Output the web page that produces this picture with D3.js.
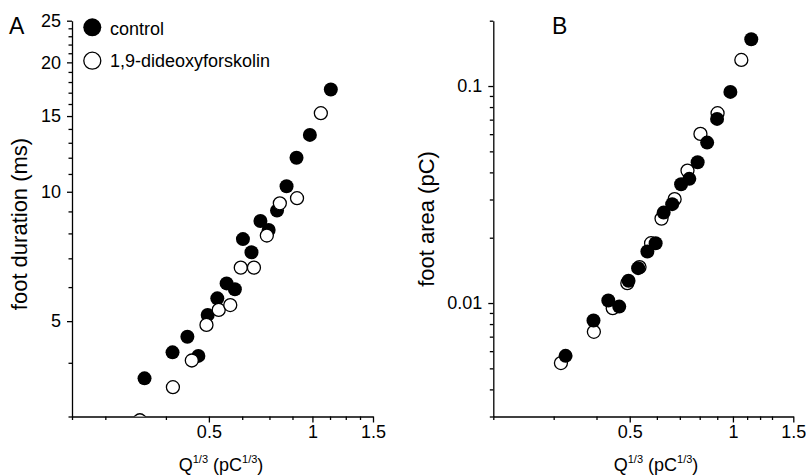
<!DOCTYPE html>
<html>
<head>
<meta charset="utf-8">
<script src="https://cdn.jsdelivr.net/npm/d3@7/dist/d3.min.js"></script>
<style>
html,body{margin:0;padding:0;background:#fff;}
svg{display:block;}
text{font-family:"Liberation Sans",Arial,Helvetica,sans-serif;fill:#000;}
</style>
</head>
<body>
<svg id="chart" width="806" height="475"></svg>
<script>
// ---- data ----
const seriesNames = ["control", "1,9-dideoxyforskolin"];
const qControl   = [0.325,0.392,0.433,0.466,0.496,0.529,0.563,0.595,0.628,0.665,0.706,0.746,0.789,0.841,0.899,0.983,1.131];
const durControl = [3.68,4.23,4.60,4.15,5.17,5.65,6.12,5.93,7.76,7.23,8.55,8.15,9.04,10.3,12.0,13.56,17.3];
const areaControl= [0.00571,0.00831,0.01027,0.00963,0.01266,0.01448,0.01727,0.01887,0.02611,0.02855,0.03529,0.03734,0.04457,0.05487,0.07055,0.09394,0.1643];
const qDideoxy   = [0.315,0.393,0.446,0.492,0.534,0.577,0.619,0.676,0.737,0.804,0.902,1.058];
const durDideoxy = [2.94,3.51,4.05,4.90,5.31,5.45,6.66,6.66,7.91,9.40,9.66,15.23];
const areaDideoxy= [0.00529,0.00737,0.00947,0.01235,0.01464,0.01887,0.02450,0.03010,0.04077,0.06018,0.07495,0.1319];

const xMajorTicks = [0.5, 1, 1.5];
const xMinorTicksA = [0.2, 0.25, 0.375, 0.625, 0.75, 0.875, 1.125, 1.25, 1.375];
const xMinorTicksB = [0.2, 0.3, 0.4, 0.6, 0.7, 0.8, 0.9, 1.1, 1.2, 1.3];
const yMajorTicksA = [5, 10, 15, 20, 25];
const yMinorTicksA = [3,4,6,7,8,9,11,12,13,14,16,17,18,19,21,22,23,24];
const yMajorTicksB = [0.01, 0.1];
const yMinorTicksB = [0.003,0.004,0.005,0.006,0.007,0.008,0.009,0.02,0.03,0.04,0.05,0.06,0.07,0.08,0.09,0.2];

const svg = d3.select("#chart");
const FONT = 18;

function buildPanel(cfg) {
  const g = svg.append("g");
  const x = d3.scaleLog().domain([0.2, 1.5]).range([cfg.x0, cfg.x1]);
  const y = d3.scaleLog().domain(cfg.yDomain).range([cfg.y0, cfg.y1]);

  const clipId = "clip" + cfg.letter;
  svg.append("defs").append("clipPath").attr("id", clipId)
    .append("rect").attr("x", cfg.x0).attr("y", cfg.y1 - 12)
    .attr("width", cfg.x1 - cfg.x0 + 12).attr("height", cfg.y0 - cfg.y1 + 12);

  // minor ticks
  const xMinor = g.append("g").attr("transform", `translate(0,${cfg.y0})`)
    .call(d3.axisBottom(x).tickValues(cfg.xMinor).tickSize(3.5).tickFormat(""));
  xMinor.select(".domain").remove();
  const yMinor = g.append("g").attr("transform", `translate(${cfg.x0},0)`)
    .call(d3.axisLeft(y).tickValues(cfg.yMinor).tickSize(3.5).tickFormat(""));
  yMinor.select(".domain").remove();

  // major axes
  const xAx = g.append("g").attr("transform", `translate(0,${cfg.y0})`)
    .call(d3.axisBottom(x).tickValues(xMajorTicks).tickSize(6).tickSizeOuter(0).tickPadding(3)
      .tickFormat(d => String(d)));
  const yAx = g.append("g").attr("transform", `translate(${cfg.x0},0)`)
    .call(d3.axisLeft(y).tickValues(cfg.yMajor).tickSize(5).tickSizeOuter(0).tickPadding(6)
      .tickFormat(d => String(d)));
  [xAx, yAx, xMinor, yMinor].forEach(a => {
    a.selectAll("path,line").attr("stroke", "#000").attr("stroke-width", 1.3);
    a.selectAll("text").attr("font-size", FONT).attr("font-family", '"Liberation Sans",Arial,sans-serif').attr("fill", "#000");
  });

  // points
  const pts = g.append("g").attr("clip-path", `url(#${clipId})`);
  const filled = cfg.qc.map((q, i) => ({q, v: cfg.vc[i]}));
  const open = cfg.qd.map((q, i) => ({q, v: cfg.vd[i]}));
  const drawFilled = () => pts.append("g").selectAll("circle").data(filled).join("circle")
    .attr("cx", d => x(d.q)).attr("cy", d => y(d.v)).attr("r", 7).attr("fill", "#000");
  const drawOpen = () => pts.append("g").selectAll("circle").data(open).join("circle")
    .attr("cx", d => x(d.q)).attr("cy", d => y(d.v)).attr("r", 6.5)
    .attr("fill", "#fff").attr("stroke", "#000").attr("stroke-width", 1.3);
  if (cfg.openOnTop) { drawFilled(); drawOpen(); } else { drawOpen(); drawFilled(); }

  // panel letter
  g.append("text").attr("x", cfg.letterX).attr("y", 33.5).attr("font-size", 23).text(cfg.letter);

  // y title
  g.append("text").attr("transform", `translate(${cfg.yTitleX},${cfg.yTitleY}) rotate(-90)`)
    .attr("text-anchor", "middle").attr("font-size", 22).text(cfg.yTitle);

  // x title with superscripts
  const xt = g.append("text").attr("x", cfg.xTitleX).attr("y", 471).attr("text-anchor", "middle").attr("font-size", FONT);
  xt.append("tspan").text("Q");
  xt.append("tspan").attr("font-size", 11).attr("dy", -8).text("1/3");
  xt.append("tspan").attr("dy", 8).text(" (pC");
  xt.append("tspan").attr("font-size", 11).attr("dy", -8).text("1/3");
  xt.append("tspan").attr("dy", 8).text(")");
  return {g, x, y};
}

const A = buildPanel({
  letter: "A", letterX: 9, x0: 72, x1: 373, y0: 416.5, y1: 20.7, yDomain: [3, 25],
  xMinor: xMinorTicksA, yMajor: yMajorTicksA, yMinor: yMinorTicksA,
  qc: qControl, vc: durControl, qd: qDideoxy, vd: durDideoxy, openOnTop: true,
  yTitle: "foot duration (ms)", yTitleX: 27, yTitleY: 224, xTitleX: 221
});
const B = buildPanel({
  letter: "B", letterX: 552, x0: 493.3, x1: 793.3, y0: 416.5, y1: 20.7, yDomain: [0.003, 0.2],
  xMinor: xMinorTicksB, yMajor: yMajorTicksB, yMinor: yMinorTicksB,
  qc: qControl, vc: areaControl, qd: qDideoxy, vd: areaDideoxy, openOnTop: false,
  yTitle: "foot area (pC)", yTitleX: 434, yTitleY: 219, xTitleX: 656
});

// legend (panel A)
const leg = svg.append("g");
leg.append("circle").attr("cx", 92.3).attr("cy", 27.3).attr("r", 9).attr("fill", "#000");
leg.append("circle").attr("cx", 92.3).attr("cy", 60.7).attr("r", 8.5).attr("fill", "#fff").attr("stroke", "#000").attr("stroke-width", 1.3);
leg.append("text").attr("x", 110).attr("y", 34.5).attr("font-size", FONT).text(seriesNames[0]);
leg.append("text").attr("x", 110).attr("y", 67).attr("font-size", FONT).text(seriesNames[1]);
</script>
</body>
</html>
